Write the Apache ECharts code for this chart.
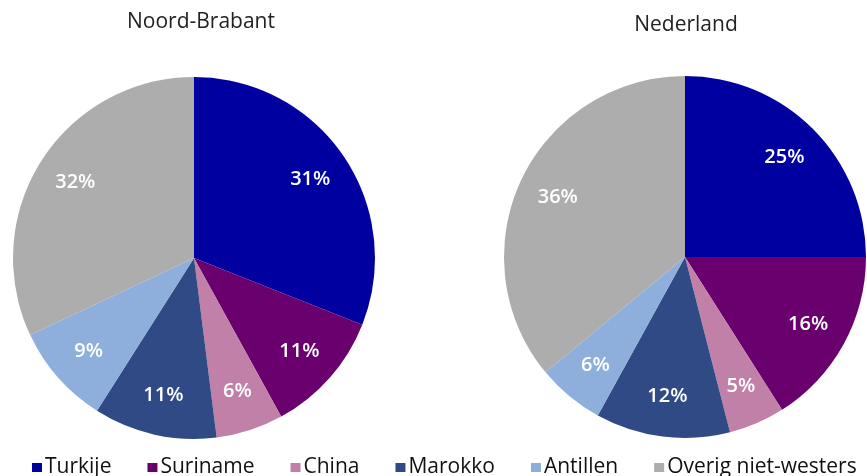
<!DOCTYPE html>
<html>
<head>
<meta charset="utf-8">
<script src="https://cdn.jsdelivr.net/npm/echarts@6/dist/echarts.min.js"></script>
<style>
html,body{margin:0;padding:0;background:#fff;}
#chart{width:867px;height:476px;}
</style>
</head>
<body>
<div id="chart"></div>
<script>
var categories = ['Turkije', 'Suriname', 'China', 'Marokko', 'Antillen', 'Overig niet-westers'];
var noordBrabant = [31, 11, 6, 11, 9, 32];
var nederland = [25, 16, 5, 12, 6, 36];
var titles = ['Noord-Brabant', 'Nederland'];
var colors = ['#0000a0', '#6a006e', '#c080a8', '#2f4a85', '#8eaedc', '#adadad'];

function toData(vals) {
  return categories.map(function (c, i) { return { name: c, value: vals[i] }; });
}

var centers = [[194, 258], [685, 257]];
var R = 181;
var seriesVals = [noordBrabant, nederland];

var series = [];
seriesVals.forEach(function (vals, k) {
  series.push({
    type: 'pie',
    center: centers[k],
    radius: [0, R],
    startAngle: 90,
    clockwise: true,
    data: toData(vals),
    label: { show: false },
    labelLine: { show: false },
    itemStyle: { borderWidth: 0 },
    emphasis: { disabled: true }
  });
  series.push({
    type: 'pie',
    center: centers[k],
    radius: [0, R * 1.52],
    startAngle: 90,
    clockwise: true,
    silent: true,
    data: toData(vals),
    itemStyle: { color: 'rgba(0,0,0,0)', borderWidth: 0 },
    label: {
      show: true,
      position: 'inside',
      formatter: '{c}%',
      color: '#ffffff',
      fontFamily: 'Open Sans',
      fontWeight: 600,
      fontSize: 20
    },
    labelLine: { show: false },
    emphasis: { disabled: true }
  });
});

var chart = echarts.init(document.getElementById('chart'), null, { renderer: 'canvas' });
chart.setOption({
  animation: false,
  color: colors,
  title: titles.map(function (t, k) {
    return {
      text: t,
      left: centers[k][0] + (k === 0 ? 2 : -4),
      top: k === 0 ? 7 : 10,
      textAlign: 'center',
      textStyle: { fontFamily: 'Open Sans', fontWeight: 'normal', fontSize: 21, color: '#222' }
    };
  }),
  legend: {
    data: categories,
    left: 27,
    right: 0,
    top: 452,
    itemWidth: 10,
    itemHeight: 9,
    itemGap: 36,
    icon: 'rect',
    textStyle: { fontFamily: 'Open Sans', fontSize: 21, color: '#111', padding: [0, 0, 0, -2] }
  },
  series: series
});
</script>
</body>
</html>
